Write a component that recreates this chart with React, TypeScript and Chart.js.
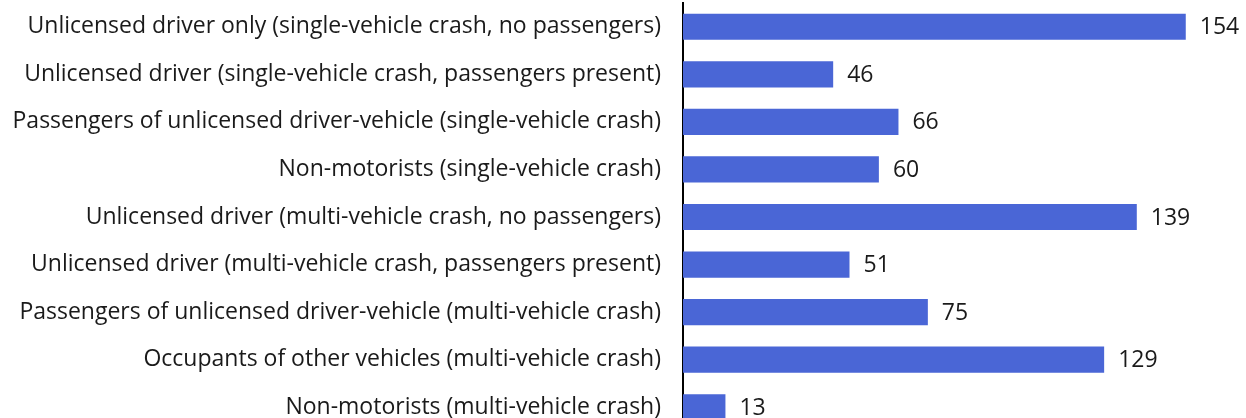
import React, { useEffect, useRef } from "react";
import { Chart, registerables } from "chart.js";

Chart.register(...registerables);

const categories = [
  "Unlicensed driver only (single-vehicle crash, no passengers)",
  "Unlicensed driver (single-vehicle crash, passengers present)",
  "Passengers of unlicensed driver-vehicle (single-vehicle crash)",
  "Non-motorists (single-vehicle crash)",
  "Unlicensed driver (multi-vehicle crash, no passengers)",
  "Unlicensed driver (multi-vehicle crash, passengers present)",
  "Passengers of unlicensed driver-vehicle (multi-vehicle crash)",
  "Occupants of other vehicles (multi-vehicle crash)",
  "Non-motorists (multi-vehicle crash)",
];
const values = [154, 46, 66, 60, 139, 51, 75, 129, 13];

const FONT = "'Open Sans', sans-serif";
const FONT_SIZE = 23;

const valueLabels = {
  id: "valueLabels",
  afterDatasetsDraw(chart: any) {
    const ctx = chart.ctx;
    const meta = chart.getDatasetMeta(0);
    ctx.save();
    ctx.font = `${FONT_SIZE}px ${FONT}`;
    ctx.fillStyle = "#1a1a1a";
    ctx.textAlign = "left";
    ctx.textBaseline = "middle";
    meta.data.forEach((bar: any, i: number) => {
      ctx.fillText(String(values[i]), bar.x + 14, bar.y + 1);
    });
    ctx.restore();
  },
};

export default function App() {
  const ref = useRef<HTMLCanvasElement>(null);
  useEffect(() => {
    if (!ref.current) return;
    const chart = new Chart(ref.current, {
      type: "bar",
      data: {
        labels: categories,
        datasets: [
          {
            data: values,
            backgroundColor: "#4A66D6",
            categoryPercentage: 1,
            barPercentage: 0.55,
          },
        ],
      },
      options: {
        indexAxis: "y",
        animation: false,
        responsive: false,
        maintainAspectRatio: false,
        layout: { padding: { top: 3, right: 8, bottom: 0, left: 0 } },
        plugins: { legend: { display: false }, tooltip: { enabled: false } },
        scales: {
          x: {
            display: false,
            min: 0,
            max: 170,
          },
          y: {
            afterFit(scale: any) {
              scale.width = 683;
              scale.paddingTop = 0;
              scale.paddingBottom = 0;
            },
            grid: { display: false, drawTicks: true, tickLength: 22, tickColor: "rgba(0,0,0,0)" },
            border: { display: true, color: "#000000", width: 2 },
            ticks: {
              color: "#1a1a1a",
              padding: 0,
              font: { family: FONT, size: FONT_SIZE },
              autoSkip: false,
            },
          },
        },
      },
      plugins: [valueLabels],
    });
    return () => chart.destroy();
  }, []);
  return (
    <div style={{ position: "absolute", left: 0, top: 0, width: 1246, height: 431 }}>
      <canvas ref={ref} width={1246} height={431} style={{ display: "block" }} />
    </div>
  );
}
